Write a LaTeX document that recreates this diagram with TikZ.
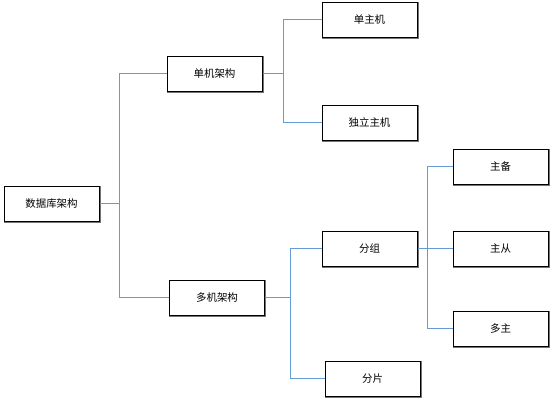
\documentclass[tikz,border=0pt]{standalone}
\usepackage{fontspec}
\newfontfamily\cjk{Noto Sans CJK SC}
\definecolor{linkblue}{RGB}{100,156,216}
\pgfdeclarelayer{bg}
\pgfsetlayers{bg,main}
\begin{document}
\begin{tikzpicture}[x=1bp,y=-1bp,
  box/.style={draw=black, line width=0.9bp, fill=white, minimum width=95bp, minimum height=35bp, inner sep=0pt,
    font=\cjk\fontsize{10.5pt}{12pt}\selectfont, text=black},
  shade/.style={color=black!55, line width=1.2bp},
  link/.style={draw, color=linkblue, line width=1.3bp}]
\useasboundingbox (0,0) rectangle (554,402);
\node[box] (root) at (51.5,203.5) {数据库架构};
\node[box] (single) at (214.5,73.5) {单机架构};
\node[box] (multi) at (217,297.5) {多机架构};
\node[box] (host) at (369.5,19.5) {单主机};
\node[box] (indep) at (369.5,122.5) {独立主机};
\node[box] (group) at (369.5,248.5) {分组};
\node[box] (shard) at (372.5,378.5) {分片};
\node[box] (ms) at (500.5,166.5) {主备};
\node[box] (mslave) at (500.5,248.5) {主从};
\node[box] (mm) at (500.5,328.5) {多主};
\begin{pgfonlayer}{bg}
\foreach \n in {root,single,multi,host,indep,group,shard,ms,mslave,mm}{
  \draw[shade] ([xshift=0.8bp,yshift=-1bp]\n.south west) rectangle ([xshift=0.8bp,yshift=-1bp]\n.north east);
}
\coordinate (j1) at (119.5,203.5);
\coordinate (j2) at (283.5,73.5);
\coordinate (j3) at (290.5,297.5);
\coordinate (j4) at (427.5,248.5);
\path[link] (root.east) -- (j1) |- (single.west);
\path[link] (j1) |- (multi.west);
\path[link] (single.east) -- (j2) |- (host.west);
\path[link] (j2) |- (indep.west);
\path[link] (multi.east) -- (j3) |- (group.west);
\path[link] (j3) |- (shard.west);
\path[link] (group.east) -- (j4) |- (ms.west);
\path[link] (j4) |- (mslave.west);
\path[link] (j4) |- (mm.west);
\end{pgfonlayer}
\end{tikzpicture}
\end{document}
